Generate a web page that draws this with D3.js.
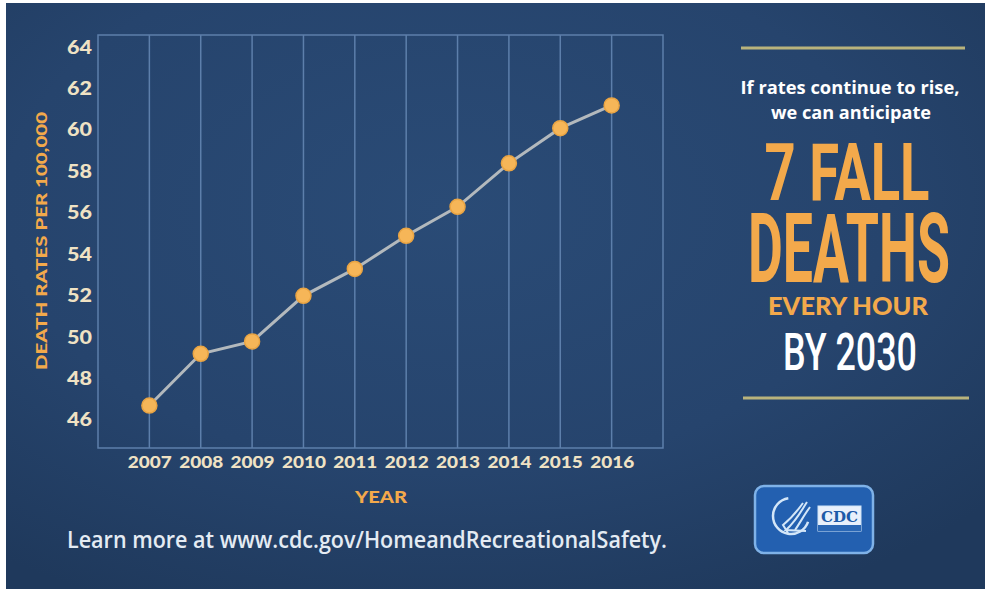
<!DOCTYPE html>
<html><head><meta charset="utf-8">
<script src="https://cdn.jsdelivr.net/npm/d3@7"></script>
<style>
html,body{margin:0;padding:0;background:#fff;}
svg{display:block;}
</style></head>
<body>
<svg id="chart" width="985" height="589"></svg>
<script>
// ---- data ----
const years = [2007, 2008, 2009, 2010, 2011, 2012, 2013, 2014, 2015, 2016];
const deathRates = [46.7, 49.2, 49.8, 52.0, 53.3, 54.9, 56.3, 58.4, 60.1, 61.2];
const yTicks = [46, 48, 50, 52, 54, 56, 58, 60, 62, 64];
const yTitle = "DEATH RATES PER 100,000";
const xTitle = "YEAR";
const footer = "Learn more at www.cdc.gov/HomeandRecreationalSafety.";
const sideLines = ["If rates continue to rise,", "we can anticipate"];
const bigLines = ["7 FALL", "DEATHS"];
const subLine = "EVERY HOUR";
const byLine = "BY 2030";

const svg = d3.select("#chart");
const W = 985, H = 589;

// background
const defs = svg.append("defs");
const g1 = defs.append("radialGradient").attr("id","bg").attr("cx","45%").attr("cy","35%").attr("r","75%");
g1.append("stop").attr("offset","0%").attr("stop-color","#2a4b76");
g1.append("stop").attr("offset","60%").attr("stop-color","#26446d");
g1.append("stop").attr("offset","100%").attr("stop-color","#1f395c");
svg.append("rect").attr("x",6).attr("y",3).attr("width",W-6).attr("height",H-3).attr("fill","url(#bg)");

// scales
const x = d3.scaleLinear().domain([2006, 2017]).range([98, 663]);
const y = d3.scaleLinear().domain([44.65, 64.6]).range([448, 35]);

const gridColor = "#5d7fab";
// grid lines
svg.append("g").selectAll("line").data(years).join("line")
  .attr("x1", d => x(d)).attr("x2", d => x(d))
  .attr("y1", y(64.6)).attr("y2", y(44.65))
  .attr("stroke", gridColor).attr("stroke-width", 1.5);
// frame
svg.append("rect")
  .attr("x", x(2006)).attr("y", y(64.6))
  .attr("width", x(2017) - x(2006)).attr("height", y(44.65) - y(64.6))
  .attr("fill", "none").attr("stroke", gridColor).attr("stroke-width", 1.5);

const tickColor = "#efe2c4";
// y axis
const yAxis = svg.append("g").attr("transform", `translate(${x(2006)},0)`)
  .call(d3.axisLeft(y).tickValues(yTicks).tickSize(0).tickPadding(6).tickFormat(d3.format("d")));
yAxis.select(".domain").remove();
yAxis.selectAll("text").attr("fill", tickColor)
  .style("font-family", "Lato, 'Open Sans', sans-serif").style("font-weight", 900).style("font-size", "18px")
  .attr("textLength", 25).attr("lengthAdjust", "spacingAndGlyphs");

// x axis
const xAxis = svg.append("g").attr("transform", `translate(0,${y(44.65)})`)
  .call(d3.axisBottom(x).tickValues(years).tickSize(0).tickPadding(8).tickFormat(d3.format("d")));
xAxis.select(".domain").remove();
xAxis.selectAll("text").attr("fill", tickColor)
  .style("font-family", "Lato, 'Open Sans', sans-serif").style("font-weight", 900).style("font-size", "17px")
  .attr("textLength", 44).attr("lengthAdjust", "spacingAndGlyphs");

// axis titles
const orange = "#f3a94b";
svg.append("text").attr("transform", `translate(47,241) rotate(-90)`)
  .attr("text-anchor", "middle").attr("fill", orange)
  .style("font-family", "Lato, sans-serif").style("font-weight", 900).style("font-size", "15px")
  .attr("textLength", 258).attr("lengthAdjust", "spacingAndGlyphs")
  .text(yTitle);
svg.append("text").attr("x", 381).attr("y", 503).attr("text-anchor", "middle").attr("fill", orange)
  .style("font-family", "Lato, sans-serif").style("font-weight", 900).style("font-size", "17px")
  .attr("textLength", 52).attr("lengthAdjust", "spacingAndGlyphs")
  .text(xTitle);

// line + points
const data = years.map((yr, i) => ({ yr, v: deathRates[i] }));
svg.append("path").datum(data)
  .attr("d", d3.line().x(d => x(d.yr)).y(d => y(d.v)))
  .attr("fill", "none").attr("stroke", "#b3b9bd").attr("stroke-width", 3);
svg.append("g").selectAll("circle").data(data).join("circle")
  .attr("cx", d => x(d.yr)).attr("cy", d => y(d.v)).attr("r", 7.5)
  .attr("fill", "#f6b658").attr("stroke", "#e9a443").attr("stroke-width", 1.5);

// footer
svg.append("text").attr("x", 67).attr("y", 548).attr("fill", "#e4ebf3")
  .style("font-family", "'Open Sans', sans-serif").style("font-weight", 600).style("font-size", "24px")
  .attr("textLength", 600).attr("lengthAdjust", "spacingAndGlyphs")
  .text(footer);

// right panel
const lineCol = "#b9b37c";
svg.append("line").attr("x1", 741).attr("x2", 965).attr("y1", 48).attr("y2", 48)
  .attr("stroke", lineCol).attr("stroke-width", 3);
svg.append("line").attr("x1", 743).attr("x2", 969).attr("y1", 398).attr("y2", 398)
  .attr("stroke", lineCol).attr("stroke-width", 3);

const cx = 850;
const side = svg.append("g").attr("fill", "#ffffff").attr("text-anchor", "middle")
  .style("font-family", "'Open Sans', sans-serif").style("font-weight", 700).style("font-size", "17px");
side.append("text").attr("x", cx).attr("y", 94).attr("textLength", 219).attr("lengthAdjust", "spacingAndGlyphs").text(sideLines[0]);
side.append("text").attr("x", cx + 1).attr("y", 119).attr("textLength", 160).attr("lengthAdjust", "spacingAndGlyphs").text(sideLines[1]);

const cond = "Roboto, 'DejaVu Sans', sans-serif";
svg.append("text").attr("x", 847).attr("y", 200).attr("text-anchor", "middle").attr("fill", orange)
  .style("font-family", cond).style("font-weight", 700).style("font-size", "80px")
  .attr("textLength", 165).attr("lengthAdjust", "spacingAndGlyphs").text(bigLines[0]);
svg.append("text").attr("x", 849).attr("y", 282).attr("text-anchor", "middle").attr("fill", orange)
  .style("font-family", cond).style("font-weight", 700).style("font-size", "97px")
  .attr("textLength", 202).attr("lengthAdjust", "spacingAndGlyphs").text(bigLines[1]);
svg.append("text").attr("x", 848).attr("y", 315).attr("text-anchor", "middle").attr("fill", orange)
  .style("font-family", "Lato, sans-serif").style("font-weight", 900).style("font-size", "24px")
  .attr("textLength", 160).attr("lengthAdjust", "spacingAndGlyphs").text(subLine);
svg.append("text").attr("x", 850).attr("y", 370).attr("text-anchor", "middle").attr("fill", "#ffffff")
  .style("font-family", cond).style("font-weight", 500).style("font-size", "52px")
  .attr("textLength", 134).attr("lengthAdjust", "spacingAndGlyphs").text(byLine);

// CDC logo
const logo = svg.append("g");
logo.append("rect").attr("x", 755).attr("y", 486).attr("width", 118).attr("height", 67).attr("rx", 9)
  .attr("fill", "#2360b0").attr("stroke", "#7fb2e8").attr("stroke-width", 2.5);
const hhs = logo.append("g").attr("fill", "none").attr("stroke", "#d3e6f8").attr("stroke-width", 2);
hhs.append("path").attr("d", d3.arc()({ innerRadius: 18, outerRadius: 18, startAngle: 1.9, endAngle: 2 * Math.PI - 0.15 }))
  .attr("transform", "translate(791,516)").attr("stroke-width", 2.5);
hhs.append("path").attr("d", "M807,502 C801,511 797,520 786,530 L806,531");
hhs.append("path").attr("d", "M810,507 C804,515 800,523 795,530");
hhs.append("path").attr("d", "M803,503 C798,510 793,517 783,525 L788,533");
logo.append("rect").attr("x", 818).attr("y", 506).attr("width", 43).attr("height", 25)
  .attr("fill", "#e8f0fb").attr("stroke", "#cfe3f7").attr("stroke-width", 1);
logo.append("rect").attr("x", 818).attr("y", 525).attr("width", 43).attr("height", 6).attr("fill", "#2a67b5");
logo.append("text").attr("x", 839.5).attr("y", 522).attr("text-anchor", "middle").attr("fill", "#1d5aa8")
  .style("font-family", "'DejaVu Serif', serif").style("font-weight", 700).style("font-size", "15px")
  .attr("textLength", 37).attr("lengthAdjust", "spacingAndGlyphs").text("CDC");
</script>
</body></html>
